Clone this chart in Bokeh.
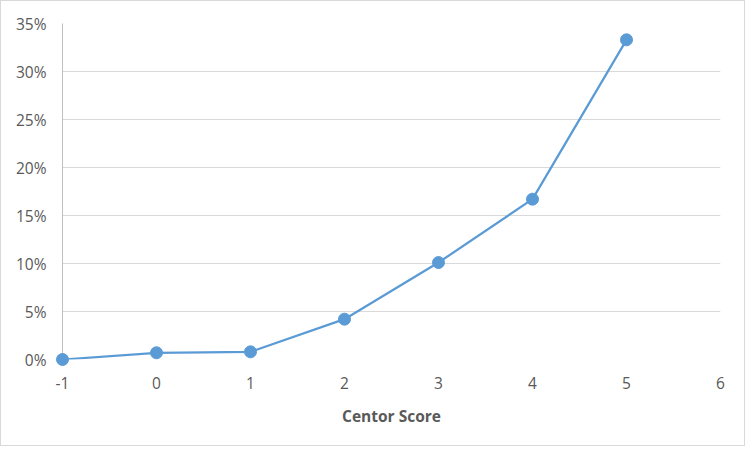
from bokeh.plotting import figure
from bokeh.models import Range1d, NumeralTickFormatter, FixedTicker
from bokeh.embed import file_html
from bokeh.resources import INLINE

scores = [-1, 0, 1, 2, 3, 4, 5]
rates = [0.0, 0.007, 0.008, 0.042, 0.101, 0.167, 0.333]
x_ticks = [-1, 0, 1, 2, 3, 4, 5, 6]
x_tick_labels = ["-1", "0", "1", "2", "3", "4", "5", "6"]
y_ticks = [0, 0.05, 0.10, 0.15, 0.20, 0.25, 0.30, 0.35]
x_title = "Centor Score"

FONT = "Open Sans"
BLUE = "#5b9bd5"
TXT = "#595959"

p = figure(width=745, height=446, output_backend="svg", toolbar_location=None,
           x_range=Range1d(-1, 6), y_range=Range1d(0, 0.35),
           min_border_left=61, min_border_right=26, min_border_top=22, min_border_bottom=88)
p.styles = {"border": "1px solid #d9d9d9"}
p.outline_line_color = None
p.background_fill_color = "white"
p.border_fill_color = "white"

p.line(scores, rates, line_color=BLUE, line_width=2.25)
r = p.scatter(scores, rates, size=12, fill_color=BLUE, line_color=BLUE)
r.level = "overlay"

p.xaxis.ticker = FixedTicker(ticks=x_ticks)
p.xaxis.major_label_overrides = dict(zip(x_ticks, x_tick_labels))
p.yaxis.ticker = FixedTicker(ticks=y_ticks)
p.yaxis.formatter = NumeralTickFormatter(format="0%")

for ax in (p.xaxis[0], p.yaxis[0]):
    ax.major_tick_line_color = None
    ax.minor_tick_line_color = None
    ax.major_tick_out = 0
    ax.major_tick_in = 0
    ax.minor_tick_out = 0
    ax.major_label_text_font = FONT
    ax.major_label_text_font_size = "15.5px"
    ax.major_label_text_color = TXT

p.xaxis.axis_line_color = None
p.yaxis.axis_line_color = "#bfbfbf"
p.yaxis.axis_line_width = 1
p.yaxis.major_label_standoff = 16
p.xaxis.major_label_standoff = 17

p.xaxis.axis_label = x_title
p.xaxis.axis_label_text_font = FONT
p.xaxis.axis_label_text_font_style = "bold"
p.xaxis.axis_label_text_font_size = "15.5px"
p.xaxis.axis_label_text_color = TXT
p.xaxis.axis_label_standoff = 13

p.xgrid.grid_line_color = None
p.ygrid.grid_line_color = "#d9d9d9"
p.ygrid.grid_line_width = 1

open("out.html", "w").write(file_html(p, INLINE))
